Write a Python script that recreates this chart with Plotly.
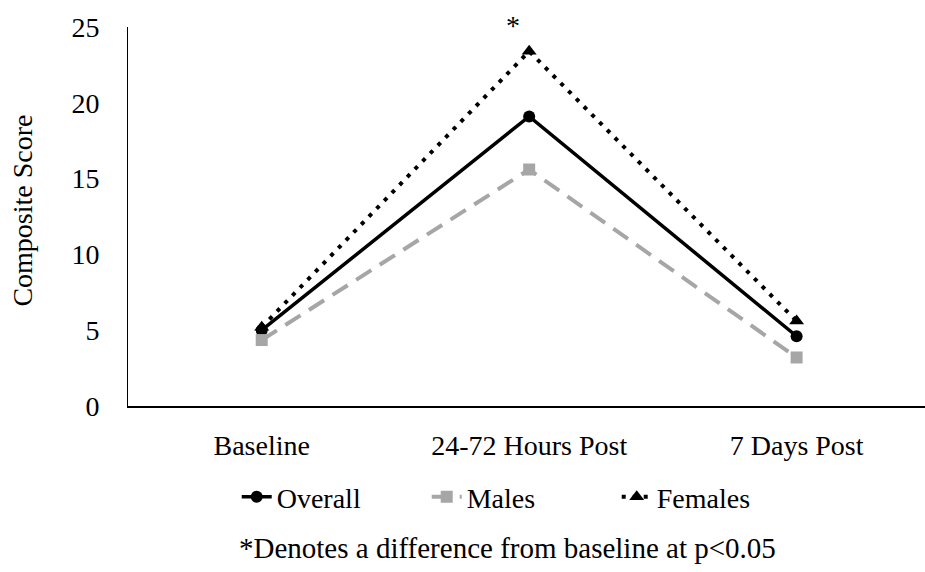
import plotly.graph_objects as go

categories = ["Baseline", "24-72 Hours Post", "7 Days Post"]
overall = [5.0, 19.1, 4.6]
males = [4.35, 15.6, 3.2]
females = [5.2, 23.4, 5.6]
y_ticks = [0, 5, 10, 15, 20, 25]

FONT = "Liberation Serif, Times New Roman, serif"
FS = 28

fig = go.Figure()
fig.add_trace(go.Scatter(
    x=categories, y=overall, name="Overall", mode="lines+markers",
    line=dict(color="black", width=3.5, dash="solid"),
    marker=dict(symbol="circle", size=12, color="black"),
    cliponaxis=False))
fig.add_trace(go.Scatter(
    x=categories, y=males, name="Males", mode="lines+markers",
    line=dict(color="#A6A6A6", width=4, dash="18px,10px"),
    marker=dict(symbol="square", size=12, color="#A6A6A6"),
    cliponaxis=False))
fig.add_trace(go.Scatter(
    x=categories, y=females, name="Females", mode="lines+markers",
    line=dict(color="black", width=4, dash="4px,7px"),
    marker=dict(symbol="triangle-up", size=13, color="black"),
    cliponaxis=False))

fig.add_annotation(x=categories[1], y=females[1], text="*", showarrow=False,
                   xshift=-16, yshift=26, yanchor="middle",
                   font=dict(family=FONT, size=FS, color="black"))

fig.add_annotation(xref="paper", yref="paper", x=-0.132, y=0.515,
                   text="Composite Score", textangle=-90, showarrow=False,
                   xanchor="center", yanchor="middle",
                   font=dict(family=FONT, size=FS, color="black"))

fig.add_annotation(xref="paper", yref="paper", x=0.476, y=-0.375,
                   text="*Denotes a difference from baseline at p<0.05",
                   showarrow=False, xanchor="center", yanchor="middle",
                   font=dict(family=FONT, size=29, color="black"))

fig.update_layout(
    width=925, height=572,
    margin=dict(l=128, r=0, t=27, b=166),
    paper_bgcolor="white", plot_bgcolor="white",
    font=dict(family=FONT, size=FS, color="black"),
    showlegend=True,
    legend=dict(orientation="h", x=0.494, y=-0.24, xanchor="center",
                yanchor="middle", font=dict(family=FONT, size=FS),
                tracegroupgap=0, entrywidth=145, entrywidthmode="pixels"),
    xaxis=dict(range=[-0.5, 2.48], showgrid=False, showline=True,
               linecolor="black", linewidth=2,
               ticks="outside", ticklen=13, tickcolor="rgba(0,0,0,0)",
               tickfont=dict(family=FONT, size=FS), zeroline=False),
    yaxis=dict(range=[0, 25], tickvals=y_ticks, showgrid=False, showline=True,
               linecolor="black", linewidth=1, ticks="outside", ticklen=22,
               tickcolor="rgba(0,0,0,0)", tickfont=dict(family=FONT, size=FS),
               zeroline=False),
)

fig.write_html("out.html")
